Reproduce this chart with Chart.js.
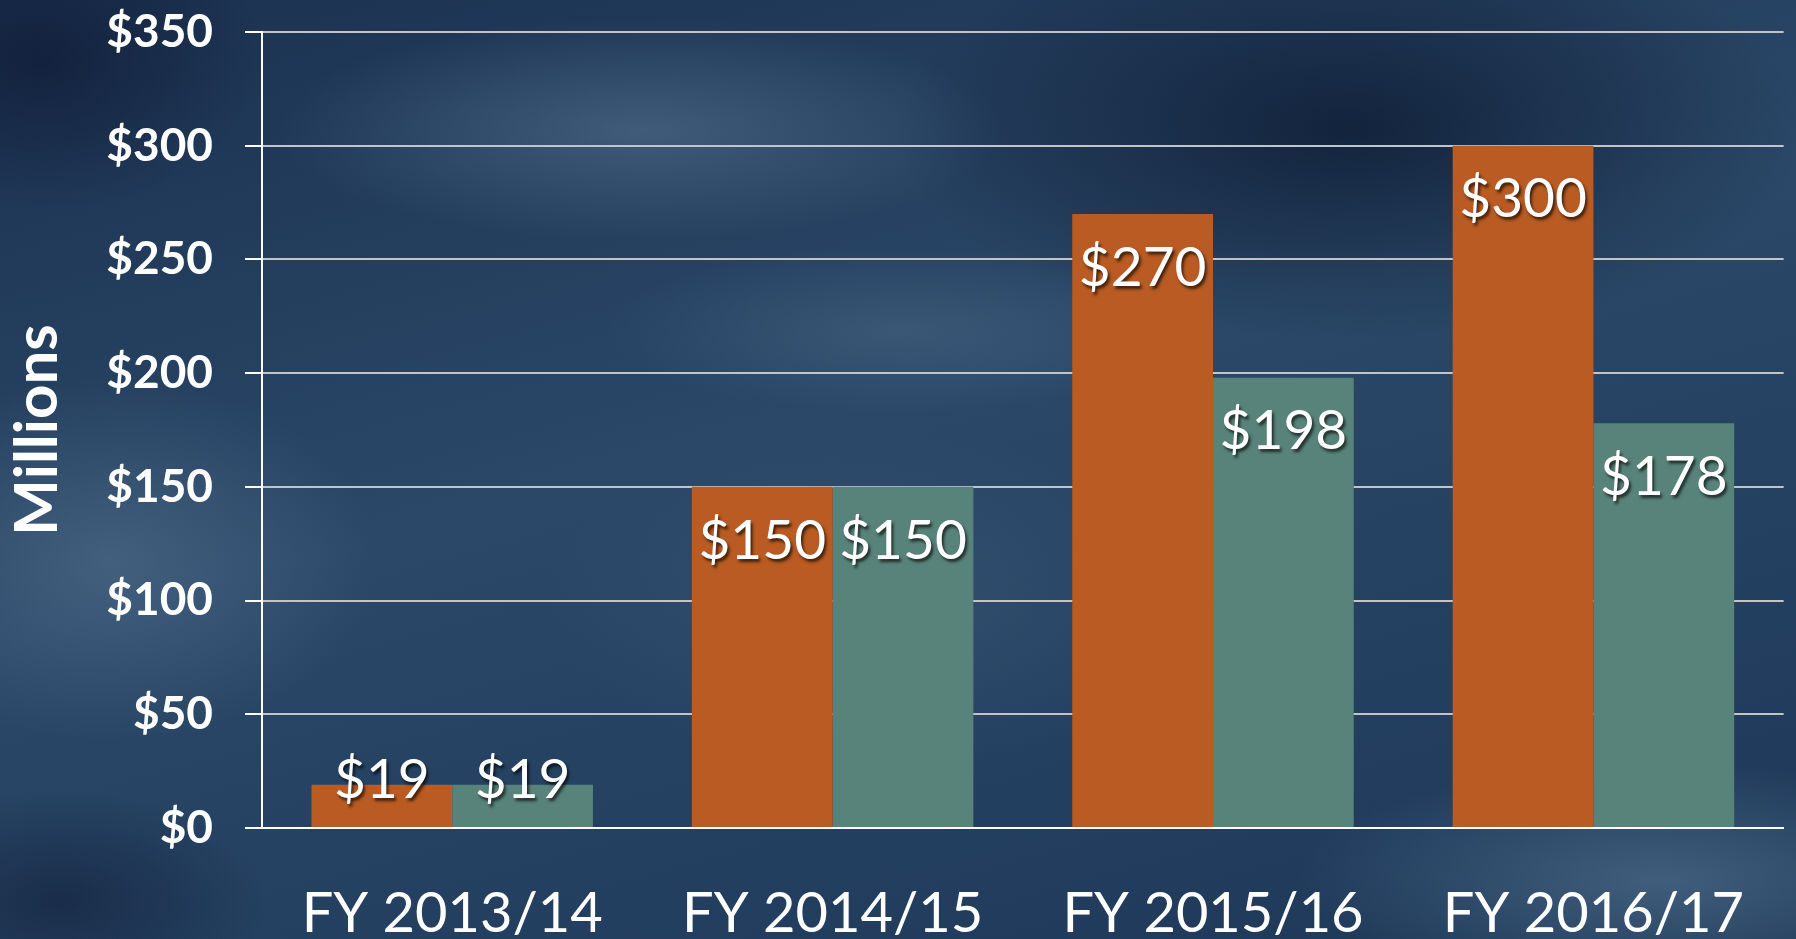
<!DOCTYPE html>
<html>
<head>
<meta charset="utf-8">
<script src="https://cdn.jsdelivr.net/npm/chart.js@4"></script>
<style>
  html, body { margin: 0; padding: 0; }
  body {
    width: 1796px; height: 939px; overflow: hidden;
    background:
      radial-gradient(ellipse 520px 160px at 640px 130px, rgba(100,130,160,0.45), transparent 70%),
      radial-gradient(ellipse 420px 120px at 900px 330px, rgba(90,120,150,0.35), transparent 70%),
      radial-gradient(ellipse 380px 260px at 110px 560px, rgba(90,120,150,0.5), transparent 70%),
      radial-gradient(ellipse 480px 240px at 880px 600px, rgba(70,100,130,0.35), transparent 70%),
      radial-gradient(ellipse 520px 170px at 1660px 880px, rgba(100,130,160,0.5), transparent 70%),
      radial-gradient(ellipse 650px 300px at 1350px 130px, rgba(5,15,35,0.6), transparent 70%),
      radial-gradient(ellipse 320px 220px at 40px 60px, rgba(10,20,45,0.55), transparent 70%),
      radial-gradient(ellipse 300px 160px at 60px 900px, rgba(10,20,45,0.45), transparent 70%),
      linear-gradient(165deg, #1b3150 0%, #2b4868 45%, #1d3757 100%);
  }
  #wrap { position: absolute; left: 0; top: 0; width: 1796px; height: 939px; }
</style>
</head>
<body>
<div id="wrap"><canvas id="chart"></canvas></div>
<script>
const categories = ['FY 2013/14', 'FY 2014/15', 'FY 2015/16', 'FY 2016/17'];
const orangeValues = [19, 150, 270, 300];
const tealValues = [19, 150, 198, 178];
const yMax = 350;
const yStep = 50;

// value labels drawn near the top, inside each bar
const barLabels = {
  id: 'barLabels',
  afterDatasetsDraw(chart) {
    const ctx = chart.ctx;
    const base = chart.scales.y.getPixelForValue(0);
    ctx.save();
    ctx.font = '55px Lato';
    ctx.fillStyle = '#ffffff';
    ctx.textAlign = 'center';
    ctx.textBaseline = 'middle';
    ctx.shadowColor = 'rgba(0,0,0,0.65)';
    ctx.shadowOffsetX = 2;
    ctx.shadowOffsetY = 3;
    ctx.shadowBlur = 3;
    chart.data.datasets.forEach((ds, i) => {
      chart.getDatasetMeta(i).data.forEach((bar, j) => {
        const y = Math.min(bar.y + 54, base - 48);
        ctx.fillText('$' + ds.data[j], bar.x, y);
      });
    });
    ctx.restore();
  }
};

Chart.defaults.font.family = 'Lato';
Chart.defaults.color = '#ffffff';

new Chart(document.getElementById('chart'), {
  type: 'bar',
  data: {
    labels: categories,
    datasets: [
      { label: 'Series 1', data: orangeValues, backgroundColor: '#b95b22' },
      { label: 'Series 2', data: tealValues, backgroundColor: '#58837a' },
    ],
  },
  options: {
    responsive: true,
    maintainAspectRatio: false,
    animation: false,
    categoryPercentage: 0.74,
    barPercentage: 1.0,
    layout: { padding: { left: 0, right: 0, top: 32, bottom: 0 } },
    plugins: { legend: { display: false }, tooltip: { enabled: false } },
    scales: {
      x: {
        grid: { display: false, drawTicks: false },
        border: { display: true, color: '#ffffff', width: 2 },
        ticks: { color: '#ffffff', font: { size: 56 }, padding: 52 },
        afterFit(scale) { scale.height = 111; },
      },
      y: {
        min: 0,
        max: yMax,
        ticks: {
          stepSize: yStep,
          color: '#ffffff',
          font: { size: 46, weight: 'bold' },
          padding: 32,
          callback: v => '$' + v,
        },
        grid: { color: '#c4c4c4', lineWidth: 2, tickLength: 17, tickColor: '#ffffff', tickWidth: 2 },
        border: { display: true, color: '#ffffff', width: 2 },
        title: { display: true, text: 'Millions', color: '#ffffff', font: { size: 60, weight: 'bold' }, padding: { top: 2, bottom: 0 } },
        afterFit(scale) { scale.width = 262; scale.paddingTop = 0; scale.paddingBottom = 0; },
      },
    },
  },
  plugins: [barLabels],
});
</script>
</body>
</html>
